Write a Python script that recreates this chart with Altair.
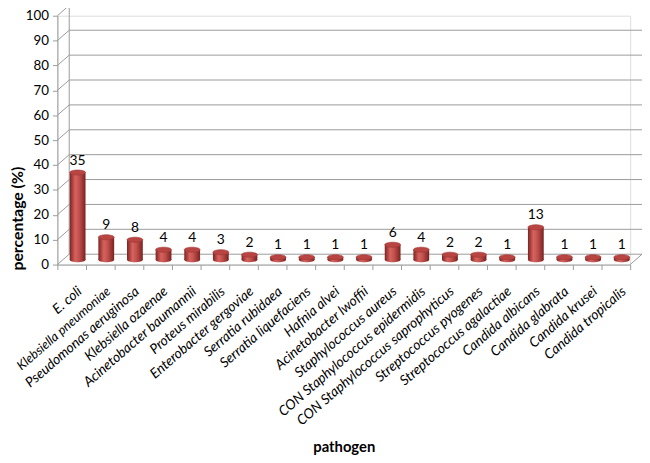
import altair as alt
import pandas as pd

pathogens = ["E. coli", "Klebsiella  pneumoniae", "Pseudomonas aeruginosa", "Klebsiella ozaenae",
             "Acinetobacter baumannii", "Proteus mirabilis", "Enterobacter gergoviae", "Serratia rubidaea",
             "Serratia liquefaciens", "Hafnia alvei", "Acinetobacter lwoffii", "Staphylococcus aureus",
             "CON Staphylococcus epidermidis", "CON Staphylococcus saprophyticus", "Streptococcus pyogenes",
             "Streptococcus agalactiae", "Candida  albicans", "Candida glabrata", "Candida krusei",
             "Candida tropicalis"]
values = [35, 9, 8, 4, 4, 3, 2, 1, 1, 1, 1, 6, 4, 2, 2, 1, 13, 1, 1, 1]
ticks = list(range(0, 101, 10))

df = pd.DataFrame({"pathogen": pathogens, "value": values})
grid = pd.DataFrame({"t": ticks})

W, H = 580, 252
DX, DY = 12, -10.5
BX, BY = 6, -5
FONT = "Lato"
GRID = "#9a9a9a"

grad = {"gradient": "linear", "x1": 0, "x2": 1, "y1": 0, "y2": 0,
        "stops": [{"offset": 0, "color": "#7d2421"}, {"offset": 0.35, "color": "#d8625e"},
                  {"offset": 0.6, "color": "#c0504d"}, {"offset": 1, "color": "#7a2220"}]}

xaxis = alt.Axis(title="pathogen", labelAngle=-41, labelAlign="right", labelBaseline="middle",
                 labelFont=FONT, labelFontStyle="italic",
                 labelFontSize={"condition": {"test": "datum.label == 'Klebsiella  pneumoniae'", "value": 13},
                                "value": 14},
                 labelColor="#000",
                 labelPadding=20, labelOffset=8, tickBand="extent", tickColor=GRID, tickSize=5,
                 domainColor=GRID, titleFont=FONT, titleFontSize=15, titleFontWeight="bold",
                 titleColor="#000", titleY=184, titleBaseline="middle", labelLimit=300,
                 labelOverlap=False)
yaxis = alt.Axis(title="percentage (%)", values=ticks, grid=False, labelFont=FONT, labelFontSize=13.5,
                 labelColor="#000", tickColor=GRID, tickSize=5, domainColor=GRID, labelPadding=4,
                 labelOverlap=False, titleFont=FONT, titleFontSize=16, titleFontWeight="bold",
                 titleColor="#000", titleX=-40, titleY=205, titleAngle=270, titleAlign="center",
                 titleBaseline="middle")
yscale = alt.Scale(domain=[0, 100])

xs = alt.X("pathogen:N", sort=pathogens, scale=alt.Scale(paddingInner=0, paddingOuter=0), axis=xaxis)

base_g = alt.Chart(grid)
gridlines = base_g.mark_rule(color=GRID, yOffset=DY).encode(
    y=alt.Y("t:Q", scale=yscale, axis=yaxis), x=alt.value(DX), x2=alt.value(W + DX))
diag = base_g.mark_rule(color=GRID, y2Offset=DY).encode(
    y=alt.Y("t:Q", scale=yscale, axis=yaxis), y2="t:Q", x=alt.value(0), x2=alt.value(DX))
back = alt.Chart(pd.DataFrame({"a": [0], "b": [100]})).mark_rule(
    color=GRID, yOffset=DY, y2Offset=DY).encode(
    y=alt.Y("a:Q", scale=yscale, axis=yaxis), y2="b:Q", x=alt.value(DX))
rdiag = alt.Chart(pd.DataFrame({"a": [0]})).mark_rule(color=GRID, y2Offset=DY).encode(
    y=alt.Y("a:Q", scale=yscale, axis=yaxis), y2="a:Q", x=alt.value(W), x2=alt.value(W + DX))

base = alt.Chart(df)
ell = "M -1 0 A 1 0.32 0 1 0 1 0 A 1 0.32 0 1 0 -1 0 Z"
bottom = base.mark_point(shape=ell, size=256, filled=True, fill=grad, opacity=1, strokeWidth=0,
                         xOffset=BX, yOffset=BY).encode(
    x=xs, y=alt.Y("zero:Q", scale=yscale, axis=yaxis)).transform_calculate(zero="0")
bars = base.mark_bar(size=16, fill=grad, xOffset=BX, yOffset=BY, y2Offset=BY).encode(
    x=xs, y=alt.Y("value:Q", scale=yscale, axis=yaxis), y2=alt.datum(0))
top = base.mark_point(shape=ell, size=256, filled=True, fill="#b84542", stroke="#9e3734",
                      strokeWidth=0.6, opacity=1, xOffset=BX, yOffset=BY).encode(
    x=xs, y=alt.Y("value:Q", scale=yscale, axis=yaxis))
labels = base.mark_text(font=FONT, fontSize=14, color="#000", baseline="bottom",
                        xOffset=BX, yOffset=BY - 5).encode(
    x=xs, y=alt.Y("value:Q", scale=yscale, axis=yaxis), text="value:Q")

chart = alt.layer(gridlines, diag, back, rdiag, bottom, bars, top, labels).properties(
    width=W, height=H, autosize=alt.AutoSizeParams(type="none"),
    padding={"left": 50, "top": 5, "right": 12, "bottom": 190}
).configure_view(stroke=None).configure(background="white")

chart.save("out.html", embed_options={"renderer": "svg", "actions": False})
